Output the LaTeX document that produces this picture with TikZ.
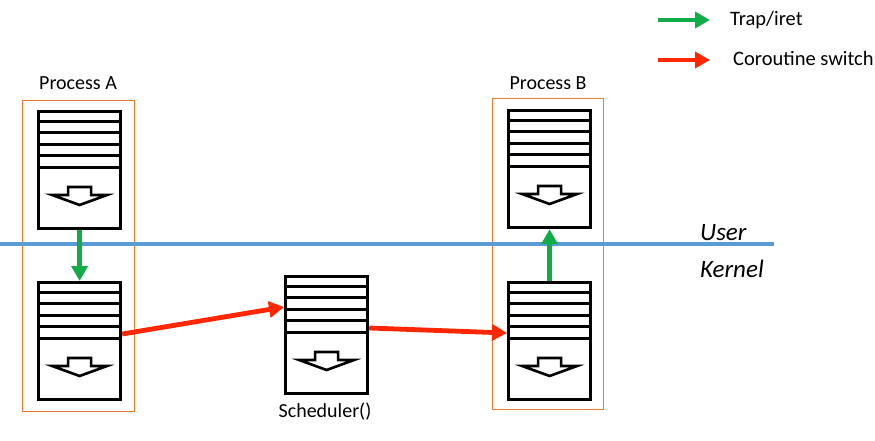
\documentclass[tikz,border=0pt]{standalone}
\usepackage{fontspec}
\setmainfont{Carlito}
\usetikzlibrary{arrows.meta}
\definecolor{borange}{HTML}{ED7D31}
\definecolor{bblue}{HTML}{5B9BD5}
\definecolor{bgreen}{HTML}{12AB4A}
\definecolor{bred}{HTML}{FF2600}
\tikzset{
  stackbox/.style={draw=black, fill=white, line width=3.2pt, inner sep=0pt, minimum width=82pt, minimum height=117pt, anchor=north west},
  stripe/.style={line width=3pt},
  blockarrow/.style={line width=2.6pt, line join=miter},
  procbox/.style={draw=borange, line width=1.3pt, inner sep=0pt, anchor=north west},
  userline/.style={draw=bblue, line width=3.2pt},
  trap/.style={draw=bgreen, line width=4.8pt, -{Triangle[length=15pt,width=16pt]}},
  cosw/.style={draw=bred, line width=4.8pt, -{Triangle[length=15pt,width=16pt]}},
  lbl/.style={font=\fontsize{20}{24}\selectfont, inner sep=0pt, anchor=base},
  mode/.style={font=\fontsize{25}{29}\selectfont\itshape, inner sep=0pt, anchor=base west},
  legtxt/.style={font=\fontsize{20.5}{24}\selectfont, inner sep=0pt, anchor=base west}
}
\newcommand{\stackat}[3]{%
  \node[stackbox] (#1) at (#2,#3) {};
  \foreach \k in {1,...,5}
    \draw[stripe] ([yshift=-\k*11.4pt]#1.north west) -- ([yshift=-\k*11.4pt]#1.north east);
  \begin{scope}[shift={(#1.north)}]
    \draw[blockarrow] (-11.5,77) -- (11.5,77) -- (11.5,85) -- (27.5,85) -- (0,95) -- (-27.5,85) -- (-11.5,85) -- cycle;
  \end{scope}
}
\begin{document}
\begin{tikzpicture}[x=1pt,y=-1pt]
\useasboundingbox (0,0) rectangle (875,441);
% process frames
\node[procbox, minimum width=112pt, minimum height=311pt] (procA) at (22,100) {};
\node[procbox, minimum width=111pt, minimum height=311pt] (procB) at (492,98) {};
\node[lbl] (procAlbl) at (78,90) {Process A};
\node[lbl] (procBlbl) at (548,90) {Process B};
% user/kernel line
\coordinate (ul) at (0,244);
\coordinate (ur) at (774,244);
\draw[userline] (ul) -- (ur);
\node[mode] (user) at (700,240) {User};
\node[mode] (kernel) at (700,277) {Kernel};
% stacks
\stackat{aTop}{37}{110}
\stackat{aBot}{37}{281}
\stackat{sched}{284}{275}
\stackat{bTop}{507}{109}
\stackat{bBot}{507}{281}
\node[lbl] (schedlbl) at (325,417) {Scheduler()};
% connectors
\draw[trap] (aTop.south) -- (aBot.north);
\draw[trap] (bBot.north) -- (bTop.south);
\draw[cosw] ([yshift=-53pt]aBot.north east) -- ([yshift=-32pt]sched.north west);
\draw[cosw] ([yshift=-53pt]sched.north east) -- ([yshift=-52pt]bBot.north west);
% legend
\coordinate (lg1s) at (658,20);
\coordinate (lg1e) at (710,20);
\coordinate (lg2s) at (658,60);
\coordinate (lg2e) at (710,60);
\draw[trap] (lg1s) -- (lg1e);
\draw[cosw] (lg2s) -- (lg2e);
\node[legtxt] (lg1t) at (730,26) {Trap/iret};
\node[legtxt] (lg2t) at (733,66) {Coroutine switch};
\end{tikzpicture}
\end{document}
